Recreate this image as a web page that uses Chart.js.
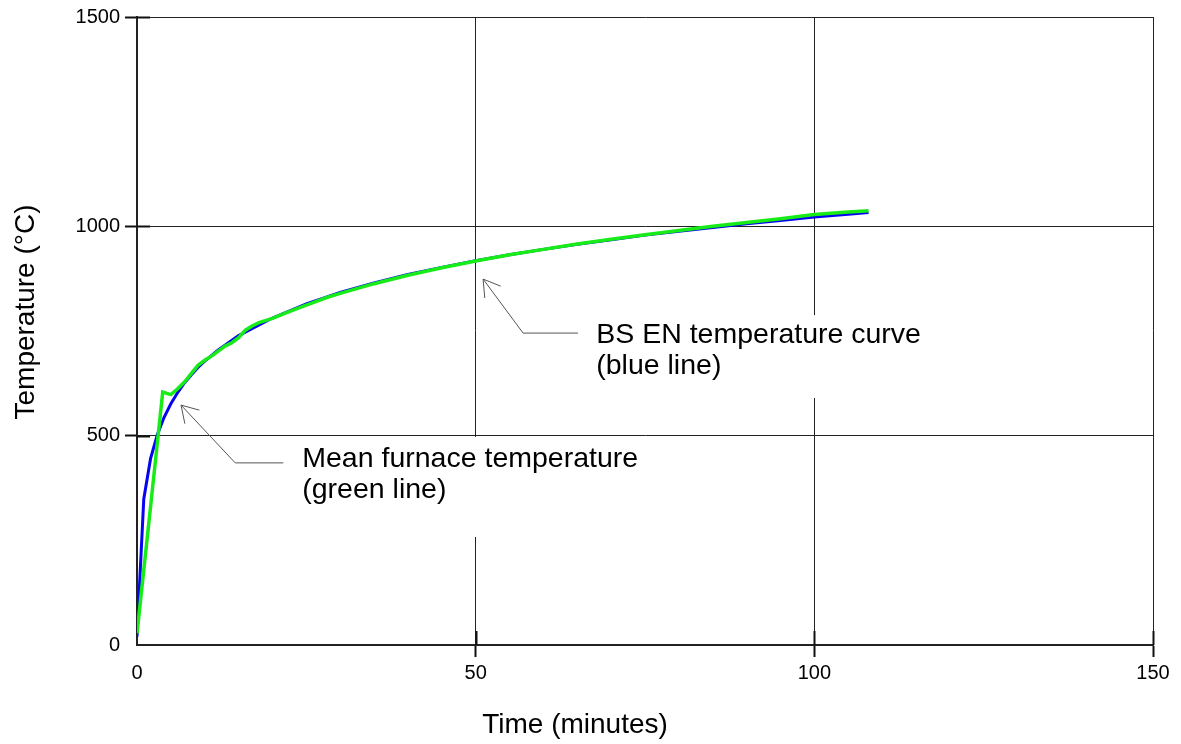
<!DOCTYPE html>
<html>
<head>
<meta charset="utf-8">
<script src="https://cdn.jsdelivr.net/npm/chart.js@4.4.0/dist/chart.umd.min.js"></script>
<style>
  html, body { margin: 0; padding: 0; background: #fff; }
</style>
</head>
<body>
<canvas id="canvas-chart" width="1181" height="744"></canvas>
<script>
// BS EN standard curve (blue)
const blueTimes = [0, 1, 2, 3, 4, 5, 6, 7, 8, 9, 10, 12, 15, 20, 25, 30, 35, 40, 45, 50, 55, 60, 65, 70, 75, 80, 85, 90, 95, 100, 105, 108];
const blueTemps = [20, 349, 445, 502, 544, 576, 603, 626, 645, 663, 678, 705, 739, 781, 815, 842, 865, 885, 902, 918, 932, 945, 957, 968, 979, 988, 997, 1006, 1014, 1022, 1029, 1033];

// mean furnace temperature (green)
const greenTimes = [0, 2, 3.8, 5, 6, 7, 8, 9, 10, 11, 12, 13, 14, 15, 16, 17, 18, 20, 22, 24, 26, 28, 30, 35, 40, 45, 50, 55, 60, 65, 70, 75, 80, 85, 90, 95, 100, 105, 108];
const greenTemps = [28, 330, 604, 598, 612, 628, 648, 668, 680, 690, 702, 714, 722, 734, 752, 762, 770, 780, 793, 806, 818, 830, 840, 863, 883, 901, 917, 932, 945, 958, 969, 980, 990, 1000, 1009, 1018, 1028, 1034, 1037];

const xTitle = "Time (minutes)";
const yTitle = "Temperature (°C)";

const notes = [
  {
    lines: ["Mean furnace temperature", "(green line)"],
    tip: [6.5, 573], elbow: [14.5, 435], end: [21.6, 435],
    text: [24.4, 425], box: [22.6, 497, 77.2, 258],
  },
  {
    lines: ["BS EN temperature curve", "(blue line)"],
    tip: [51.1, 874], elbow: [57.0, 745], end: [65.1, 745],
    text: [67.8, 721], box: [66.9, 788, 117.8, 590],
  },
];

const FONT = "'Liberation Sans', Arial, sans-serif";
const canvas = document.getElementById("canvas-chart");

const notesPlugin = {
  id: "notes",
  beforeDatasetsDraw(chart) {
    const { ctx, scales } = chart;
    const x = scales.x;
    const y = scales.y;
    ctx.save();

    notes.forEach((n) => {
      const bx1 = x.getPixelForValue(n.box[0]);
      const by1 = y.getPixelForValue(n.box[1]);
      const bx2 = x.getPixelForValue(n.box[2]);
      const by2 = y.getPixelForValue(n.box[3]);
      ctx.fillStyle = "#fff";
      ctx.fillRect(bx1, by1, bx2 - bx1, by2 - by1);

      ctx.fillStyle = "#000";
      ctx.font = "28.5px " + FONT;
      ctx.textAlign = "left";
      ctx.textBaseline = "alphabetic";
      const tx = x.getPixelForValue(n.text[0]);
      const ty = y.getPixelForValue(n.text[1]);
      n.lines.forEach((line, i) => ctx.fillText(line, tx, ty + i * 31));

      const tip = [x.getPixelForValue(n.tip[0]), y.getPixelForValue(n.tip[1])];
      const elb = [x.getPixelForValue(n.elbow[0]), y.getPixelForValue(n.elbow[1])];
      const end = [x.getPixelForValue(n.end[0]), y.getPixelForValue(n.end[1])];
      ctx.strokeStyle = "#555";
      ctx.lineWidth = 1;
      ctx.beginPath();
      ctx.moveTo(end[0], end[1]);
      ctx.lineTo(elb[0], elb[1]);
      ctx.lineTo(tip[0], tip[1]);
      ctx.stroke();

      const ang = Math.atan2(elb[1] - tip[1], elb[0] - tip[0]);
      [-0.55, 0.55].forEach((d) => {
        ctx.beginPath();
        ctx.moveTo(tip[0], tip[1]);
        ctx.lineTo(tip[0] + 19 * Math.cos(ang + d), tip[1] + 19 * Math.sin(ang + d));
        ctx.stroke();
      });
    });

    // short inner tick marks
    ctx.strokeStyle = "#111";
    ctx.lineWidth = 2;
    [500, 1000, 1500].forEach((v) => {
      const py = Math.round(y.getPixelForValue(v)) + 0.5;
      ctx.beginPath();
      ctx.moveTo(x.left, py);
      ctx.lineTo(x.left + 13, py);
      ctx.stroke();
    });
    [50, 100, 150].forEach((v) => {
      const px = Math.round(x.getPixelForValue(v)) + 0.5;
      ctx.beginPath();
      ctx.moveTo(px, y.bottom);
      ctx.lineTo(px, y.bottom - 14);
      ctx.stroke();
    });
    ctx.restore();
  },
  afterDraw(chart) {
    const { ctx } = chart;
    ctx.save();
    ctx.fillStyle = "#000";
    ctx.font = "28px " + FONT;
    ctx.textAlign = "center";
    ctx.textBaseline = "alphabetic";
    ctx.fillText(xTitle, 575, 733);
    ctx.translate(34, 312);
    ctx.rotate(-Math.PI / 2);
    ctx.fillText(yTitle, 0, 0);
    ctx.restore();
  },
};

const tickColor = (c) => (c.tick && c.tick.value === 0 ? "rgba(0,0,0,0)" : "#111");
const plainLabel = (v) => String(v);

const tempChart = new Chart(canvas, {
  type: "line",
  data: {
    datasets: [
      {
        label: "Mean furnace temperature",
        data: greenTimes.map((t, i) => ({ x: t, y: greenTemps[i] })),
        borderColor: "#18ec18",
        borderWidth: 3.5,
        pointRadius: 0,
        tension: 0,
      },
      {
        label: "BS EN temperature curve",
        data: blueTimes.map((t, i) => ({ x: t, y: blueTemps[i] })),
        borderColor: "#0505f0",
        borderWidth: 3,
        pointRadius: 0,
        tension: 0,
      },
    ],
  },
  options: {
    responsive: false,
    animation: false,
    layout: { padding: { top: 17, right: 28, left: 0, bottom: 0 } },
    plugins: { legend: { display: false }, tooltip: { enabled: false } },
    scales: {
      x: {
        type: "linear",
        min: 0,
        max: 150,
        ticks: { stepSize: 50, color: "#000", font: { family: FONT, size: 20 }, padding: 4, maxRotation: 0, callback: plainLabel },
        grid: { color: "#222", lineWidth: 1, tickLength: 12, tickWidth: 2, tickColor: tickColor },
        border: { color: "#222", width: 2 },
        afterFit: (s) => { s.height = 99; },
      },
      y: {
        min: 0,
        max: 1500,
        ticks: { stepSize: 500, color: "#000", font: { family: FONT, size: 20 }, padding: 5, callback: plainLabel },
        grid: { color: "#222", lineWidth: 1, tickLength: 12, tickWidth: 2, tickColor: tickColor },
        border: { color: "#222", width: 2 },
        afterFit: (s) => { s.width = 137; },
      },
    },
  },
  plugins: [notesPlugin],
});
</script>
</body>
</html>
